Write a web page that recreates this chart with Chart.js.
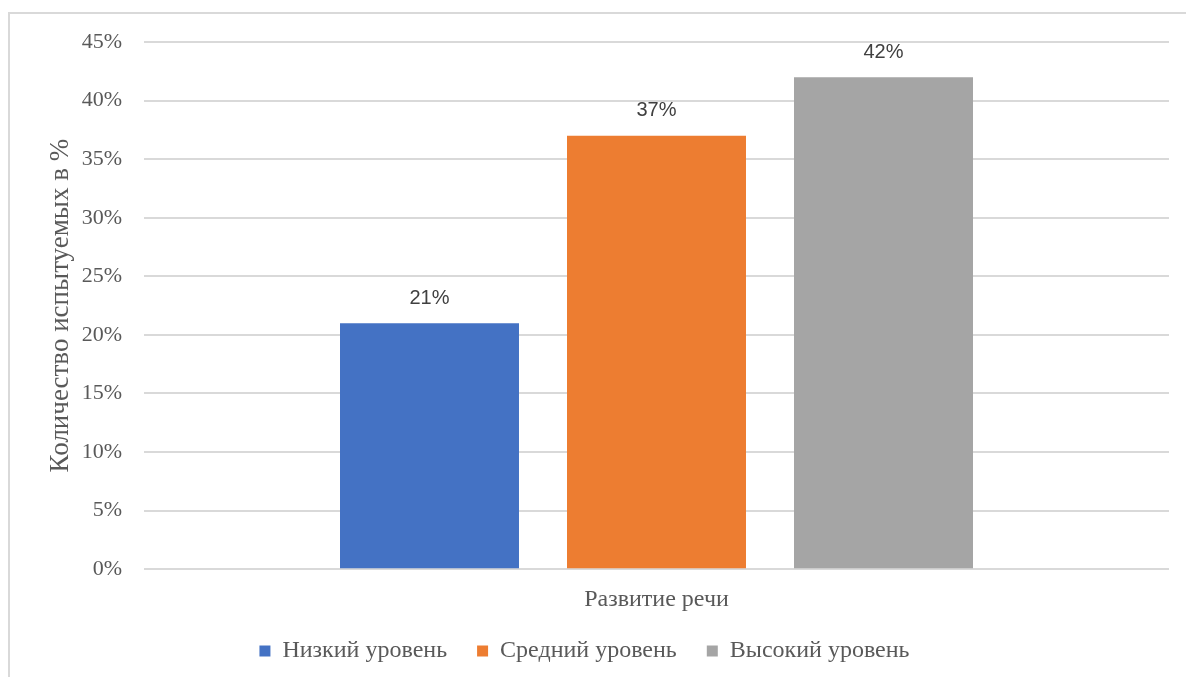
<!DOCTYPE html>
<html>
<head>
<meta charset="utf-8">
<script src="https://cdn.jsdelivr.net/npm/chart.js@4.4.1/dist/chart.umd.min.js"></script>
<style>
  body { margin: 0; background: #fff; }
  #wrap { position: relative; width: 1186px; height: 677px; overflow: hidden; }
  #frame { position: absolute; left: 8px; top: 12px; width: 1200px; height: 700px; border: 2px solid #d9d9d9; box-sizing: border-box; }
  #myBarChart { position: absolute; left: 0; top: 0; }
</style>
</head>
<body>
<div id="wrap">
  <div id="frame"></div>
  <canvas id="myBarChart" width="1186" height="677"></canvas>
</div>
<script>
// Данные диаграммы (уровни развития речи, %)
var categories = ["Развитие речи"];
var levels = ["Низкий уровень", "Средний уровень", "Высокий уровень"];
var percents = [21, 37, 42];
var colors = ["#4472C4", "#ED7D31", "#A5A5A5"];
var yTicks = [0, 5, 10, 15, 20, 25, 30, 35, 40, 45];

var serif = "'Liberation Serif', 'Times New Roman', serif";

// Подписи значений над столбцами
var valueLabels = {
    id: 'valueLabels',
    afterDatasetsDraw: function(chart) {
        var ctx = chart.ctx;
        ctx.save();
        ctx.font = "20px 'Liberation Sans', Arial, sans-serif";
        ctx.fillStyle = '#404040';
        ctx.textAlign = 'center';
        ctx.textBaseline = 'middle';
        chart.data.datasets.forEach(function(ds, i) {
            chart.getDatasetMeta(i).data.forEach(function(bar, j) {
                ctx.fillText(ds.data[j] + '%', bar.x, bar.y - 25);
            });
        });
        ctx.restore();
    }
};

var datasets = levels.map(function(name, i) {
    return {
        label: name,
        data: [percents[i]],
        backgroundColor: colors[i],
        barPercentage: 0.7885,
        categoryPercentage: 0.6644
    };
});

var ctx = document.getElementById('myBarChart').getContext('2d');
var myBarChart = new Chart(ctx, {
    type: 'bar',
    data: { labels: categories, datasets: datasets },
    plugins: [valueLabels],
    options: {
        responsive: false,
        animation: false,
        layout: { padding: { top: 42, right: 17, bottom: 4, left: 0 } },
        plugins: {
            tooltip: { enabled: false },
            legend: {
                position: 'bottom',
                labels: {
                    font: { family: serif, size: 24 },
                    color: '#595959',
                    boxWidth: 11,
                    boxHeight: 11,
                    padding: 30
                }
            }
        },
        scales: {
            x: {
                grid: { display: false },
                border: { display: false },
                ticks: { display: false },
                // название категории выводим заголовком оси: его не обрезает
                title: {
                    display: true,
                    text: categories[0],
                    font: { family: serif, size: 24 },
                    color: '#595959',
                    padding: { top: 8, bottom: -5 }
                }
            },
            y: {
                min: 0,
                max: 45,
                afterBuildTicks: function(scale) {
                    scale.ticks = yTicks.map(function(v) { return { value: v }; });
                },
                afterFit: function(scale) { scale.width = 144; },
                grid: { color: '#d9d9d9', lineWidth: 2, drawTicks: false },
                border: { display: false },
                ticks: {
                    font: { family: serif, size: 22 },
                    color: '#595959',
                    padding: 22,
                    callback: function(v) { return v + '%'; }
                },
                title: {
                    display: true,
                    text: 'Количество испытуемых в %',
                    font: { family: serif, size: 27 },
                    color: '#595959',
                    padding: { top: 45, bottom: 0 }
                }
            }
        }
    }
});
</script>
</body>
</html>
